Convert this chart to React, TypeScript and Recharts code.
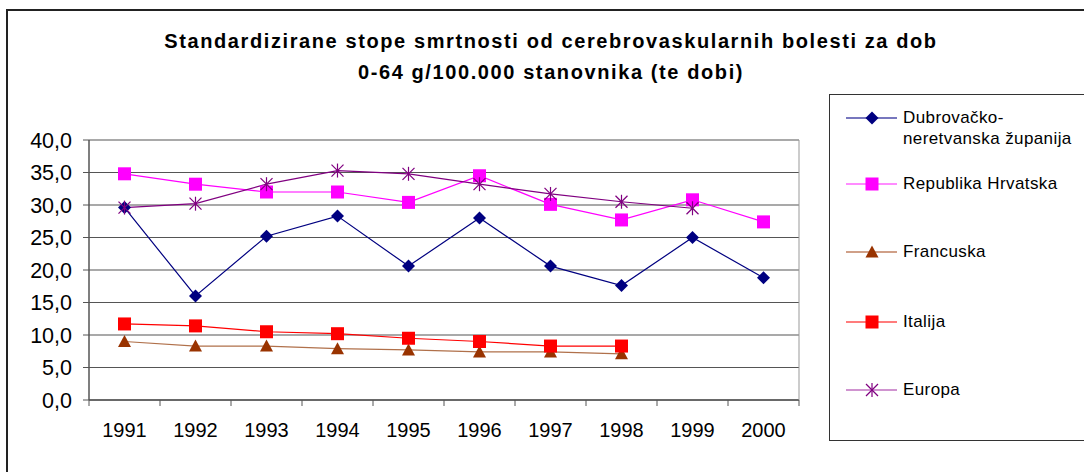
import React from 'react';
import { LineChart, Line, XAxis, YAxis, CartesianGrid } from 'recharts';

const years = ['1991', '1992', '1993', '1994', '1995', '1996', '1997', '1998', '1999', '2000'];
const dubrovacko = [29.6, 16.0, 25.2, 28.3, 20.6, 28.0, 20.6, 17.6, 25.0, 18.8];
const hrvatska = [34.8, 33.2, 32.0, 32.0, 30.4, 34.5, 30.1, 27.7, 30.8, 27.4];
const francuska = [9.0, 8.3, 8.3, 7.9, 7.7, 7.4, 7.4, 7.1, null, null];
const italija = [11.7, 11.4, 10.5, 10.2, 9.5, 9.0, 8.3, 8.3, null, null];
const europa = [29.6, 30.2, 33.2, 35.3, 34.8, 33.2, 31.7, 30.5, 29.5, null];
const yTicks = [0, 5, 10, 15, 20, 25, 30, 35, 40];
const titleLines = [
  'Standardizirane stope smrtnosti od cerebrovaskularnih bolesti za dob',
  '0-64 g/100.000 stanovnika (te dobi)',
];

const data = years.map((y, i) => ({
  year: y,
  dub: dubrovacko[i],
  hr: hrvatska[i],
  fr: francuska[i],
  it: italija[i],
  eu: europa[i],
}));

const FONT = '"Liberation Sans", Arial, sans-serif';

type Shape = 'diamond' | 'square' | 'triangle' | 'star';

const Marker = ({ shape, cx, cy, color }: { shape: Shape; cx: number; cy: number; color: string }) => {
  if (shape === 'diamond') {
    const r = 6.5;
    return <polygon points={`${cx},${cy - r} ${cx + r},${cy} ${cx},${cy + r} ${cx - r},${cy}`} fill={color} />;
  }
  if (shape === 'square') {
    const r = 6.5;
    return <rect x={cx - r} y={cy - r} width={2 * r} height={2 * r} fill={color} />;
  }
  if (shape === 'triangle') {
    const r = 6.5;
    return <polygon points={`${cx},${cy - r} ${cx + r},${cy + r - 1} ${cx - r},${cy + r - 1}`} fill={color} />;
  }
  const r = 6;
  return (
    <g stroke={color} strokeWidth={1.2}>
      <line x1={cx - r} y1={cy - r} x2={cx + r} y2={cy + r} />
      <line x1={cx - r} y1={cy + r} x2={cx + r} y2={cy - r} />
      <line x1={cx} y1={cy - r - 1} x2={cx} y2={cy + r + 1} />
    </g>
  );
};

const makeDot = (shape: Shape, color: string) => (p: any) => {
  const { cx, cy, key, value } = p;
  if (cx == null || cy == null || value == null) return <g key={key} />;
  return (
    <g key={key}>
      <Marker shape={shape} cx={cx} cy={cy} color={color} />
    </g>
  );
};

const XTick = (p: any) => {
  const { x, y, payload, index, visibleTicksCount, width } = p;
  const bw = width / visibleTicksCount;
  const left = x - bw / 2;
  return (
    <g>
      <line x1={left} y1={y} x2={left} y2={y + 6} stroke="#555" />
      {index === visibleTicksCount - 1 && (
        <line x1={left + bw} y1={y} x2={left + bw} y2={y + 6} stroke="#555" />
      )}
      <text x={x} y={y + 37} textAnchor="middle" fontSize={20} fontFamily={FONT} fill="#000">
        {payload.value}
      </text>
    </g>
  );
};

const series = [
  { key: 'dub', lines: ['Dubrovačko-', 'neretvanska županija'], shape: 'diamond' as Shape, color: '#000080', line: '#000080', legendLine: '#4a4aa8' },
  { key: 'hr', lines: ['Republika Hrvatska'], shape: 'square' as Shape, color: '#ff00ff', line: '#ff00ff', legendLine: '#ff66ff' },
  { key: 'fr', lines: ['Francuska'], shape: 'triangle' as Shape, color: '#993300', line: '#b0704a', legendLine: '#c08060' },
  { key: 'it', lines: ['Italija'], shape: 'square' as Shape, color: '#ff0000', line: '#ff0000', legendLine: '#ff5050' },
  { key: 'eu', lines: ['Europa'], shape: 'star' as Shape, color: '#800080', line: '#800080', legendLine: '#c070c0' },
];
const legendY = [23, 89, 157, 227, 295];

export default function App() {
  return (
    <div style={{ position: 'fixed', left: 0, top: 0, width: 1084, height: 472, background: '#fff', overflow: 'hidden', fontFamily: FONT }}>
      <div style={{ position: 'absolute', left: 6, top: 9, width: 1200, height: 600, borderLeft: '2px solid #222', borderTop: '2px solid #222' }} />
      {titleLines.map((t, i) => (
        <div
          key={i}
          style={{ position: 'absolute', left: 0, width: 1102, top: 29 + i * 31, textAlign: 'center', fontWeight: 'bold', fontSize: 20, letterSpacing: '1.6px', lineHeight: '24px', color: '#000', whiteSpace: 'nowrap' }}
        >
          {t}
        </div>
      ))}
      <div style={{ position: 'absolute', left: 0, top: 0 }}>
        <LineChart width={1084} height={472} data={data} margin={{ top: 140, right: 284, bottom: 42, left: 9 }}>
          <CartesianGrid horizontal vertical={false} stroke="#555" strokeWidth={1.2} yAxisId="left" />
          <XAxis
            dataKey="year"
            scale="band"
            tickLine={false}
            tickSize={0}
            tickMargin={0}
            height={30}
            axisLine={{ stroke: '#555', strokeWidth: 1.5 }}
            tick={<XTick />}
            interval={0}
          />
          <YAxis
            yAxisId="left"
            domain={[0, 40]}
            ticks={yTicks}
            interval={0}
            width={80}
            tickSize={6}
            tickMargin={11}
            axisLine={{ stroke: '#555', strokeWidth: 1.5 }}
            tickLine={{ stroke: '#555' }}
            tick={{ fontSize: 21.5, fill: '#000', fontFamily: FONT }}
            tickFormatter={(v: number) => v.toFixed(1).replace('.', ',')}
          />
          <YAxis yAxisId="right" orientation="right" domain={[0, 40]} width={1} tick={false} tickLine={false} axisLine={{ stroke: '#999' }} />
          {series.map((s) => (
            <Line
              key={s.key}
              yAxisId="left"
              dataKey={s.key}
              stroke={s.line}
              strokeWidth={1.2}
              dot={makeDot(s.shape, s.color)}
              activeDot={false}
              isAnimationActive={false}
              connectNulls={false}
            />
          ))}
        </LineChart>
      </div>
      <div style={{ position: 'absolute', left: 829, top: 94, width: 300, height: 347, border: '1px solid #333', boxSizing: 'border-box' }}>
        {series.map((s, i) => (
          <div key={s.key} style={{ position: 'absolute', left: 0, top: legendY[i] - 12 }}>
            <svg width={70} height={24} style={{ position: 'absolute', left: 0, top: 0 }}>
              <line x1={16} y1={12} x2={67} y2={12} stroke={s.legendLine} strokeWidth={1.5} />
              <Marker shape={s.shape} cx={42} cy={12} color={s.color} />
            </svg>
            {s.lines.map((t, j) => (
              <div key={j} style={{ position: 'absolute', left: 73, top: j * 21, whiteSpace: 'nowrap', fontSize: 17, letterSpacing: '0.4px', lineHeight: '24px', color: '#000' }}>
                {t}
              </div>
            ))}
          </div>
        ))}
      </div>
    </div>
  );
}
